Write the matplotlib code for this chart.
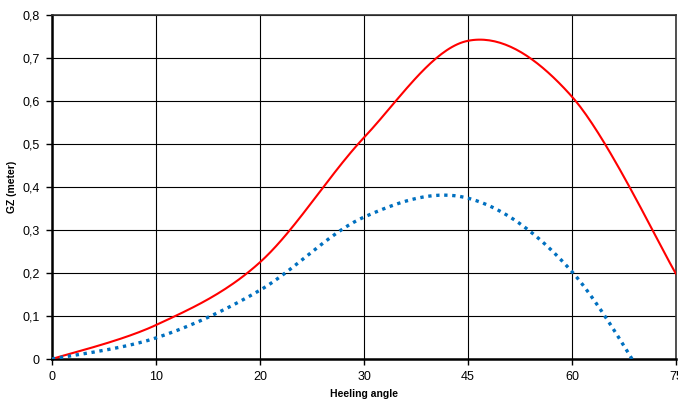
import matplotlib
matplotlib.use("Agg")
import matplotlib.pyplot as plt
import numpy as np

# heeling angle categories (equally spaced category axis)
angles = ["0", "10", "20", "30", "45", "60", "75"]
gz_red = [0.0, 0.079, 0.225, 0.515, 0.74, 0.61, 0.198]
gz_blue = [0.0, 0.049, 0.16, 0.33, 0.374, 0.203, -0.17]


def smooth(vals, n=40):
    """Excel-like smoothed line: Catmull-Rom through category points."""
    y = np.asarray(vals, dtype=float)
    x = np.arange(len(y), dtype=float)
    xp = np.concatenate([[x[0]], x, [x[-1]]])
    yp = np.concatenate([[y[0]], y, [y[-1]]])
    xs, ys = [], []
    t = np.linspace(0, 1, n)
    for i in range(1, len(xp) - 2):
        p0, p1, p2, p3 = (np.array([xp[j], yp[j]]) for j in range(i - 1, i + 3))
        c1 = p1 + (p2 - p0) / 6
        c2 = p2 - (p3 - p1) / 6
        pts = ((1 - t) ** 3)[:, None] * p1 + (3 * (1 - t) ** 2 * t)[:, None] * c1 \
            + (3 * (1 - t) * t ** 2)[:, None] * c2 + (t ** 3)[:, None] * p2
        xs.append(pts[:, 0])
        ys.append(pts[:, 1])
    return np.concatenate(xs), np.concatenate(ys)


plt.rcParams["font.family"] = ["Liberation Sans", "DejaVu Sans"]

fig = plt.figure(figsize=(6.78, 4.03), dpi=100)
ax = fig.add_axes([52 / 678, 1 - 359 / 403, 624 / 678, 344 / 403])

xr, yr = smooth(gz_red)
xb, yb = smooth(gz_blue)
ax.plot(xr, yr, color="#FF0000", lw=1.5, zorder=3)
ax.plot(xb, yb, color="#0070C0", lw=2.4, dashes=(1, 1.4), dash_capstyle="butt",
        zorder=3)

ax.set_xlim(0, len(angles) - 1)
ax.set_ylim(0, 0.8)
ax.set_xticks(range(len(angles)))
ax.set_xticklabels(angles)
yt = np.round(np.arange(0, 0.81, 0.1), 1)
ax.set_yticks(yt)
ax.set_yticklabels(["0" if v == 0 else f"{v:.1f}".replace(".", ",") for v in yt])
ax.tick_params(labelsize=9, length=4, width=1, color="black", pad=5)
ax.grid(True, color="black", lw=0.8)
ax.set_axisbelow(True)
for s in ax.spines.values():
    s.set_color("#333333")
    s.set_linewidth(1.2)
ax.spines["left"].set_linewidth(1.8)
ax.spines["bottom"].set_linewidth(1.8)
ax.spines["left"].set_color("black")
ax.spines["bottom"].set_color("black")

fig.text(364 / 678, 1 - 394 / 403, "Heeling angle", fontsize=7.5,
         fontweight="bold", ha="center", va="center")
fig.text(12 / 678, 1 - 187 / 403, "GZ (meter)", fontsize=7.5,
         fontweight="bold", ha="center", va="center", rotation=90)

fig.savefig("out.png", dpi=100)
